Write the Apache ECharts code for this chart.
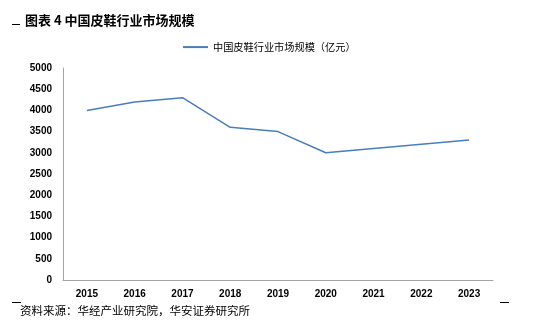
<!DOCTYPE html>
<html><head><meta charset="utf-8">
<script src="https://cdn.jsdelivr.net/npm/echarts@6/dist/echarts.min.js"></script>
<style>html,body{margin:0;padding:0;background:#fff}#c{width:533px;height:331px}</style>
</head><body><div id="c"></div>
<script>
const years = ['2015','2016','2017','2018','2019','2020','2021','2022','2023'];
const marketSize = [4000, 4200, 4300, 3600, 3500, 3000, 3100, 3200, 3300];
const seriesName = '中国皮鞋行业市场规模（亿元）';
const titleText = '图表 4 中国皮鞋行业市场规模';
const sourceText = '资料来源：华经产业研究院，华安证券研究所';

const chart = echarts.init(document.getElementById('c'));
chart.setOption({
  animation: false,
  backgroundColor: '#fff',
  title: {
    text: titleText, left: 20, top: 9,
    textStyle: { fontFamily: 'Noto Sans CJK SC', fontSize: 13, fontWeight: 'bold', color: '#000' }
  },
  legend: {
    top: 37, left: 178, itemWidth: 25, itemHeight: 2, itemGap: 4,
    icon: 'rect',
    textStyle: { fontFamily: 'Noto Sans CJK SC', fontSize: 10.2, color: '#000' },
    data: [seriesName]
  },
  graphic: [
    { type: 'line', shape: { x1: 12, y1: 24.5, x2: 20, y2: 24.5 }, style: { stroke: '#000', lineWidth: 1 } },
    { type: 'line', shape: { x1: 12, y1: 302.5, x2: 21, y2: 302.5 }, style: { stroke: '#000', lineWidth: 1 } },
    { type: 'line', shape: { x1: 500, y1: 302.5, x2: 509, y2: 302.5 }, style: { stroke: '#000', lineWidth: 1 } },
    { type: 'text', left: 20, top: 305, style: { text: sourceText, fontFamily: 'Noto Sans CJK SC', fontSize: 11.5, fill: '#000' } }
  ],
  grid: { left: 63, right: 40, top: 68, bottom: 51 },
  xAxis: {
    type: 'category', data: years, boundaryGap: true,
    axisLine: { lineStyle: { color: '#a6a6a6', width: 1 } },
    axisTick: { show: false },
    axisLabel: { color: '#000', fontFamily: 'Liberation Sans', fontSize: 10, fontWeight: 'bold', margin: 9 }
  },
  yAxis: {
    type: 'value', min: 0, max: 5000, interval: 500,
    axisLine: { show: true, lineStyle: { color: '#a6a6a6', width: 1 } },
    axisTick: { show: false },
    splitLine: { show: false },
    axisLabel: { color: '#000', fontFamily: 'Liberation Sans', fontSize: 10, fontWeight: 'bold', margin: 11,
      formatter: function (v) { return String(v); } }
  },
  series: [{
    name: seriesName, type: 'line', data: marketSize,
    symbol: 'none', lineStyle: { color: '#4a7ebb', width: 1.5 },
    itemStyle: { color: '#4a7ebb' }
  }]
});
</script></body></html>
